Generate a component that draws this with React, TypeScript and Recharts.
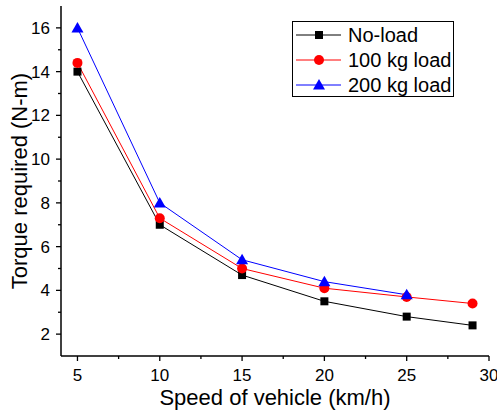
import { LineChart, Line, XAxis, YAxis } from 'recharts';

const speeds = [5, 10, 15, 20, 25, 29];
const noLoad = [14, 7, 4.7, 3.5, 2.8, 2.4];
const load100 = [14.4, 7.3, 5.0, 4.1, 3.7, 3.4];
const load200 = [16, 8, 5.4, 4.4, 3.8];

const xTicks = [5, 7.5, 10, 12.5, 15, 17.5, 20, 22.5, 25, 27.5, 30];
const yTicks = [2, 3, 4, 5, 6, 7, 8, 9, 10, 11, 12, 13, 14, 15, 16];

const FONT = 'Arial, "Liberation Sans", sans-serif';

const toPoints = (vals: number[]) => vals.map((v, i) => ({ x: speeds[i], y: v }));

type MarkerKind = 'square' | 'circle' | 'triangle';

const series: { name: string; color: string; marker: MarkerKind; values: number[] }[] = [
  { name: 'No-load', color: '#000000', marker: 'square', values: noLoad },
  { name: '100 kg load', color: '#ff0000', marker: 'circle', values: load100 },
  { name: '200 kg load', color: '#0000ff', marker: 'triangle', values: load200 },
];

function Marker({ kind, cx, cy, color }: { kind: MarkerKind; cx: number; cy: number; color: string }) {
  if (kind === 'square') return <rect x={cx - 4} y={cy - 4} width={8} height={8} fill={color} />;
  if (kind === 'circle') return <circle cx={cx} cy={cy} r={5} fill={color} />;
  return <polygon points={`${cx},${cy - 6} ${cx + 6},${cy + 4.5} ${cx - 6},${cy + 4.5}`} fill={color} />;
}

const XTick = (props: any) => {
  const { x, y, payload } = props;
  const major = payload.value % 5 === 0;
  return (
    <g>
      <line x1={x} x2={x} y1={y} y2={y + (major ? 5 : 3)} stroke="#000" strokeWidth={1.3} />
      {major && (
        <text x={x} y={y + 25} textAnchor="middle" fontSize={17} fontFamily={FONT} fill="#000">
          {payload.value}
        </text>
      )}
    </g>
  );
};

const YTick = (props: any) => {
  const { x, y, payload } = props;
  const major = payload.value % 2 === 0;
  return (
    <g>
      <line x1={x} x2={x - (major ? 5 : 3)} y1={y} y2={y} stroke="#000" strokeWidth={1.3} />
      {major && (
        <text x={x - 11} y={y + 6} textAnchor="end" fontSize={17} fontFamily={FONT} fill="#000">
          {payload.value}
        </text>
      )}
    </g>
  );
};

const LegendBox = () => (
  <div
    style={{
      position: 'absolute',
      left: 292,
      top: 21,
      width: 162,
      height: 76,
      border: '1px solid #000',
      background: '#fff',
      boxSizing: 'border-box',
    }}
  >
    <svg width={160} height={74} style={{ display: 'block' }}>
      {series.map((s, i) => {
        const cy = 13 + i * 25;
        return (
          <g key={s.name}>
            <line x1={3} x2={48} y1={cy} y2={cy} stroke={s.color} strokeWidth={1} />
            <Marker kind={s.marker} cx={26} cy={cy} color={s.color} />
            <text x={55} y={cy + 7} fontSize={20} fontFamily={FONT} fill="#000">
              {s.name}
            </text>
          </g>
        );
      })}
    </svg>
  </div>
);

export default function App() {
  return (
    <div style={{ position: 'absolute', left: 0, top: 0, width: 497, height: 412, background: '#fff' }}>
      <LineChart width={497} height={412} margin={{ top: 6, right: 8, bottom: 0, left: 0 }}>
        <XAxis
          xAxisId="top"
          orientation="top"
          type="number"
          domain={[4, 30]}
          height={0}
          tick={false}
          tickLine={false}
          axisLine={{ stroke: '#000', strokeWidth: 1.5 }}
        />
        <YAxis
          yAxisId="right"
          orientation="right"
          type="number"
          domain={[1, 17]}
          width={0}
          tick={false}
          tickLine={false}
          axisLine={{ stroke: '#000', strokeWidth: 1.5 }}
        />
        <XAxis
          dataKey="x"
          type="number"
          domain={[4, 30]}
          ticks={xTicks}
          interval={0}
          tick={<XTick />}
          tickSize={0}
          tickMargin={0}
          tickLine={false}
          height={56}
          axisLine={{ stroke: '#000', strokeWidth: 1.5 }}
          allowDuplicatedCategory={false}
          label={{
            content: ({ viewBox }: any) => (
              <text
                x={viewBox.x + viewBox.width / 2}
                y={viewBox.y + 49}
                textAnchor="middle"
                fontSize={22}
                fontFamily={FONT}
                fill="#000"
              >
                Speed of vehicle (km/h)
              </text>
            ),
          }}
        />
        <YAxis
          type="number"
          domain={[1, 17]}
          ticks={yTicks}
          interval={0}
          tick={<YTick />}
          tickSize={0}
          tickMargin={0}
          tickLine={false}
          width={61}
          axisLine={{ stroke: '#000', strokeWidth: 1.5 }}
          label={{
            content: ({ viewBox }: any) => {
              const cx = 19;
              const cy = viewBox.y + viewBox.height / 2;
              return (
                <text
                  x={cx}
                  y={cy}
                  transform={`rotate(-90 ${cx} ${cy})`}
                  textAnchor="middle"
                  dominantBaseline="central"
                  fontSize={22}
                  fontFamily={FONT}
                  fill="#000"
                >
                  Torque required (N-m)
                </text>
              );
            },
          }}
        />
        {series.map((s) => (
          <Line
            key={s.name}
            data={toPoints(s.values)}
            dataKey="y"
            name={s.name}
            type="linear"
            stroke={s.color}
            strokeWidth={1}
            isAnimationActive={false}
            dot={(p: any) => <Marker key={`${s.name}-${p.index}`} kind={s.marker} cx={p.cx} cy={p.cy} color={s.color} />}
            activeDot={false}
          />
        ))}
      </LineChart>
      <LegendBox />
    </div>
  );
}
